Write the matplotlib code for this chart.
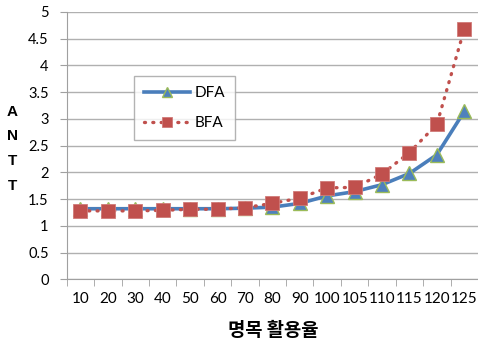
import matplotlib
matplotlib.use("Agg")
import matplotlib.pyplot as plt
import numpy as np

categories = ["10", "20", "30", "40", "50", "60", "70", "80", "90",
              "100", "105", "110", "115", "120", "125"]
dfa = [1.32, 1.32, 1.32, 1.32, 1.32, 1.32, 1.33, 1.35, 1.42,
       1.56, 1.64, 1.77, 1.98, 2.33, 3.14]
bfa = [1.28, 1.28, 1.28, 1.29, 1.31, 1.31, 1.34, 1.42, 1.52,
       1.71, 1.72, 1.97, 2.37, 2.90, 4.68]
y_ticks = [0, 0.5, 1, 1.5, 2, 2.5, 3, 3.5, 4, 4.5, 5]
y_title = ["A", "N", "T", "T"]

plt.rcParams['font.family'] = ['Lato', 'DejaVu Sans']

W, H = 478, 345
fig = plt.figure(figsize=(W / 100, H / 100), dpi=100)
left, right, top, bottom = 66.7, 478, 12, 279.3
ax = fig.add_axes([left / W, 1 - bottom / H, (right - left) / W, (bottom - top) / H])

x = np.arange(len(categories))
ax.plot(x, dfa, color="#4A7EBB", lw=2.6, marker="^", ms=9.5,
        markerfacecolor="#4F81BD", markeredgecolor="#9BBB59", markeredgewidth=1.0,
        label="DFA", zorder=3)
ax.plot(x, bfa, color="#C0504D", lw=2.4, ls=(0, (0.3, 2.2)), dash_capstyle="round",
        marker="s", ms=10, markerfacecolor="#C0504D", markeredgecolor="#D07A78",
        markeredgewidth=0.6, label="BFA", zorder=4)

ax.set_xlim(-0.5, len(categories) - 0.5)
ax.set_ylim(0, 5)
ax.set_yticks(y_ticks)
ax.set_yticklabels([f"{v:g}" for v in y_ticks], fontsize=10.5)
ax.set_xticks(x)
ax.set_xticklabels(categories, fontsize=11)
ax.tick_params(axis="x", length=0, pad=9.5)
ax.set_xticks(np.arange(len(categories)) - 0.5, minor=True)
ax.tick_params(axis="x", which="minor", length=5, color="#A0A0A0", direction="out")
ax.tick_params(axis="y", length=5, color="#A0A0A0", direction="out", pad=8)

ax.grid(axis="y", color="#B0B0B0", lw=1.0)
ax.set_axisbelow(True)
for s in ["top", "right"]:
    ax.spines[s].set_visible(False)
for s in ["left", "bottom"]:
    ax.spines[s].set_color("#A0A0A0")

# vertical stacked axis title
for i, ch in enumerate(y_title):
    fig.text(12 / W, 1 - (112 + 24.5 * i) / H, ch, fontsize=11, fontweight="bold",
             family=["Liberation Sans", "DejaVu Sans"], ha="center", va="center")
fig.text(273 / W, 1 - 330 / H, "명목 활용율", fontsize=13.5, fontweight="bold",
         family=["Noto Sans CJK KR", "DejaVu Sans"], ha="center", va="center")

leg = ax.legend(loc="upper left",
                bbox_to_anchor=((134 - left) / (right - left), (bottom - 76) / (bottom - top)),
                frameon=True, fancybox=False, fontsize=11, handlelength=3.0,
                labelspacing=1.05, borderpad=0.65, borderaxespad=0, handletextpad=0.3)
leg.get_frame().set_edgecolor("#A0A0A0")
leg.get_frame().set_linewidth(1.0)
leg.legend_handles[0].set_markersize(7)
leg.legend_handles[1].set_markersize(7.5)

fig.savefig("out.png", dpi=100)
